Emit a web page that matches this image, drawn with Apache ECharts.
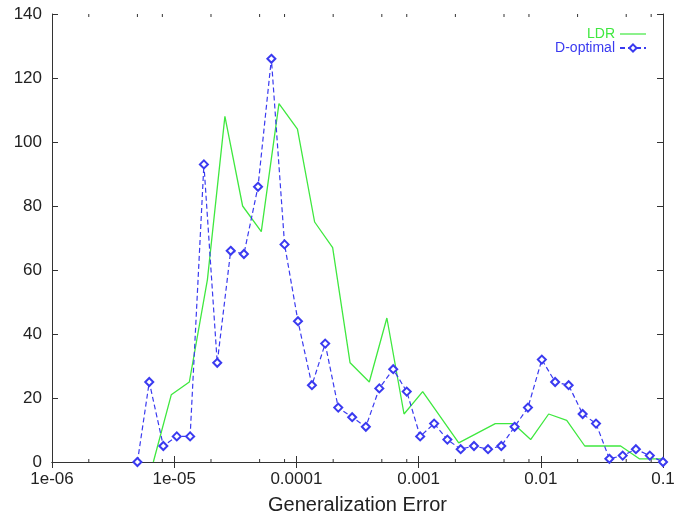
<!DOCTYPE html>
<html>
<head>
<meta charset="utf-8">
<script src="https://cdn.jsdelivr.net/npm/echarts@6/dist/echarts.min.js"></script>
<style>
  html, body { margin: 0; padding: 0; background: #fff; }
  #chart { width: 684px; height: 516px; }
</style>
</head>
<body>
<div id="chart"></div>
<script>
  // tick labels of the log axis
  var xTickValues = [1e-6, 1e-5, 1e-4, 1e-3, 1e-2, 1e-1];
  var xTickLabels = ['1e-06', '1e-05', '0.0001', '0.001', '0.01', '0.1'];
  var xMinorTicks = [2e-6, 5e-6, 8e-6, 2e-5, 5e-5, 8e-5, 2e-4, 5e-4, 8e-4,
                     2e-3, 5e-3, 8e-3, 2e-2, 5e-2, 8e-2];

  // LDR (green line)
  var ldrX = [6.75e-6, 9.46e-6, 1.33e-5, 1.87e-5, 2.6e-5, 3.63e-5, 5.16e-5, 7.2e-5,
              1.02e-4, 1.41e-4, 1.98e-4, 2.75e-4, 3.95e-4, 5.5e-4, 7.6e-4, 1.08e-3,
              2.13e-3, 4.24e-3, 5.95e-3, 8.26e-3, 1.16e-2, 1.63e-2, 2.29e-2, 4.5e-2,
              6.4e-2, 0.1];
  var ldrY = [0, 21, 25, 57, 108, 80, 72, 112, 104, 75, 67, 31, 25, 45, 15, 22,
              6, 12, 12, 7, 15, 13, 5, 5, 1, 1];

  // D-optimal (blue dashed with diamonds)
  var doptX = [5e-6, 6.25e-6, 8.15e-6, 1.05e-5, 1.35e-5, 1.75e-5, 2.25e-5, 2.9e-5,
               3.72e-5, 4.85e-5, 6.24e-5, 8.0e-5, 1.03e-4, 1.34e-4, 1.72e-4, 2.2e-4,
               2.86e-4, 3.7e-4, 4.77e-4, 6.2e-4, 8.0e-4, 1.03e-3, 1.34e-3, 1.72e-3,
               2.21e-3, 2.84e-3, 3.7e-3, 4.75e-3, 6.1e-3, 7.85e-3, 1.02e-2, 1.31e-2,
               1.69e-2, 2.2e-2, 2.83e-2, 3.64e-2, 4.68e-2, 6.0e-2, 7.8e-2, 0.1];
  var doptY = [0, 25, 5, 8, 8, 93, 31, 66, 65, 86, 126, 68, 44, 24, 37, 17,
               14, 11, 23, 29, 22, 8, 12, 7, 4, 5, 4, 5, 11, 17, 32, 25,
               24, 15, 12, 1, 2, 4, 2, 0];

  var font = 'Liberation Sans, Arial, sans-serif';
  var green = '#3fe83f';
  var blue = '#3a3af0';

  function pairs(xs, ys) {
    return xs.map(function (x, i) { return [x, ys[i]]; });
  }
  function xLabel(v) {
    for (var i = 0; i < xTickValues.length; i++) {
      if (Math.abs(Math.log10(v) - Math.log10(xTickValues[i])) < 0.01) return xTickLabels[i];
    }
    return '';
  }

  var chart = echarts.init(document.getElementById('chart'));
  var axisLine = { show: true, lineStyle: { color: '#333', width: 1 } };
  var option = {
    animation: false,
    backgroundColor: '#fff',
    grid: { left: 52, right: 21, top: 14, bottom: 54, outerBoundsMode: 'none', containLabel: false },
    legend: {
      data: [
        { name: 'LDR', icon: 'path://M0,4.4 L26,4.4 L26,5.6 L0,5.6 Z', textStyle: { color: green } },
        { name: 'D-optimal', textStyle: { color: blue } }
      ],
      orient: 'vertical',
      right: 32,
      top: 22,
      align: 'right',
      itemWidth: 26,
      itemHeight: 9,
      itemGap: 0,
      textStyle: { fontFamily: font, fontSize: 14, lineHeight: 14 }
    },
    xAxis: [{
      type: 'log',
      logBase: 10,
      min: 1e-6,
      max: 0.1,
      axisLine: axisLine,
      axisTick: { inside: true, length: 6, lineStyle: { color: '#333' } },
      splitLine: { show: false },
      axisLabel: { formatter: xLabel, fontFamily: font, fontSize: 17, color: '#222', margin: 9 },
      name: 'Generalization Error',
      nameLocation: 'middle',
      nameGap: 33,
      nameTextStyle: { fontFamily: font, fontSize: 20, color: '#222' }
    }, {
      type: 'log',
      logBase: 10,
      min: 1e-6,
      max: 0.1,
      position: 'top',
      axisLine: axisLine,
      axisTick: { inside: true, length: 6, lineStyle: { color: '#333' } },
      splitLine: { show: false },
      axisLabel: { show: false }
    }],
    yAxis: [{
      type: 'value',
      min: 0,
      max: 140,
      interval: 20,
      axisLine: axisLine,
      axisTick: { show: true, inside: true, length: 6, lineStyle: { color: '#333' } },
      splitLine: { show: false },
      axisLabel: { fontFamily: font, fontSize: 17, color: '#222', margin: 10 }
    }, {
      type: 'value',
      min: 0,
      max: 140,
      interval: 20,
      position: 'right',
      axisLine: axisLine,
      axisTick: { show: true, inside: true, length: 6, lineStyle: { color: '#333' } },
      splitLine: { show: false },
      axisLabel: { show: false }
    }],
    series: [{
      name: 'minor',
      type: 'custom',
      silent: true,
      data: xMinorTicks.map(function (v) { return [v, 0]; }),
      renderItem: function (params, api) {
        var b = api.coord([api.value(0), 0]);
        var t = api.coord([api.value(0), 140]);
        var st = { stroke: '#333', lineWidth: 1 };
        return {
          type: 'group',
          children: [
            { type: 'line', shape: { x1: b[0], y1: b[1], x2: b[0], y2: b[1] - 3 }, style: st },
            { type: 'line', shape: { x1: t[0], y1: t[1], x2: t[0], y2: t[1] + 3 }, style: st }
          ]
        };
      }
    }, {
      name: 'LDR',
      type: 'line',
      data: pairs(ldrX, ldrY),
      symbol: 'none',
      lineStyle: { color: green, width: 1.3 },
      itemStyle: { color: green }
    }, {
      name: 'D-optimal',
      type: 'line',
      data: pairs(doptX, doptY),
      symbol: 'emptyDiamond',
      symbolSize: 8,
      lineStyle: { color: blue, width: 1.2, type: [5, 3] },
      itemStyle: { color: blue, borderColor: blue, borderWidth: 1.2 }
    }]
  };
  chart.setOption(option);
</script>
</body>
</html>
